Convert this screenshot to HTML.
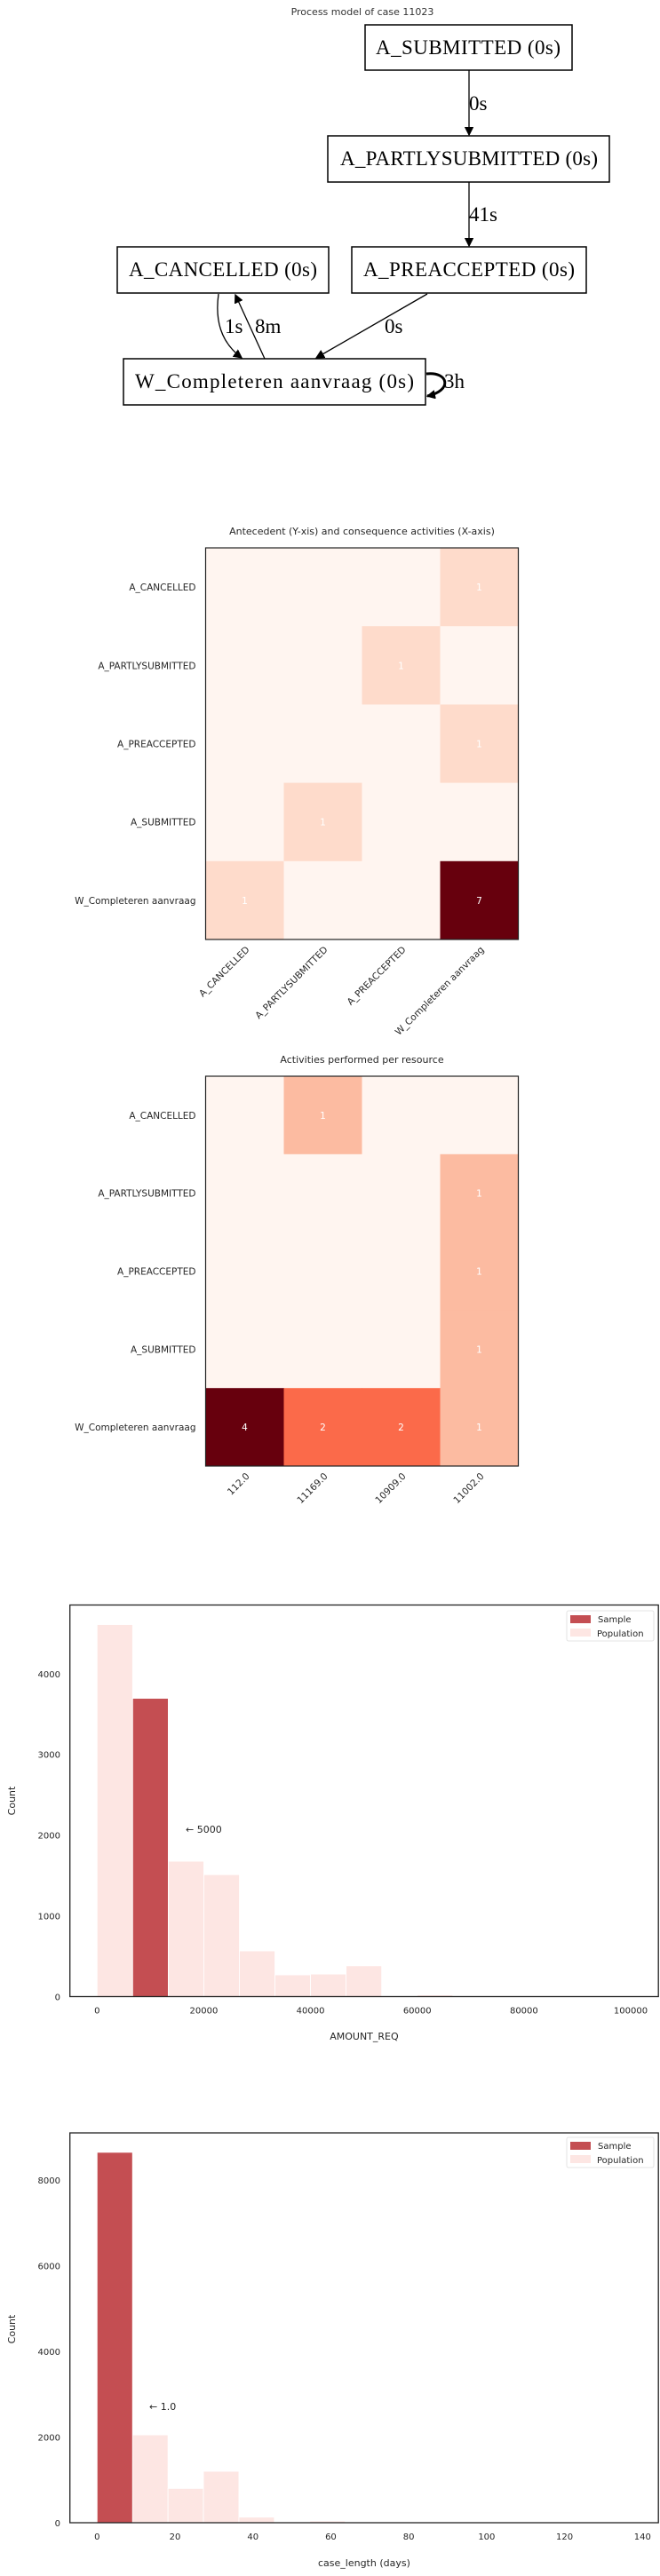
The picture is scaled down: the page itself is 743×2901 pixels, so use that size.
<!DOCTYPE html>
<html><head><meta charset="utf-8"><style>
html,body{margin:0;padding:0;background:#fff;}
svg{display:block;font-family:"DejaVu Sans","Liberation Sans",sans-serif;}
</style></head><body>
<svg id="root" width="743" height="2901" viewBox="0 0 743 2901" xmlns="http://www.w3.org/2000/svg">
<rect x="0" y="0" width="743" height="2901" fill="#fff"/>
<g font-family="'Liberation Serif',serif" fill="none" stroke="#000">
  <text x="408" y="17" font-family="'DejaVu Sans',sans-serif" font-size="11" fill="#333" stroke="none" text-anchor="middle">Process model of case 11023</text>
  <defs><marker id="ah" markerWidth="10" markerHeight="10" refX="9" refY="5" orient="auto" markerUnits="userSpaceOnUse"><path d="M0,0 L10,5 L0,10 z" fill="#000" stroke="none" transform="scale(1.3) translate(-2,-1.2)"/></marker></defs>
  <g><rect x="411" y="28" width="233" height="51" stroke-width="1.5"/><text x="527" y="61" font-size="23" fill="#000" stroke="none" text-anchor="middle" textLength="208">A_SUBMITTED (0s)</text></g>
  <g><rect x="369" y="153" width="317" height="52" stroke-width="1.5"/><text x="528" y="186" font-size="23" fill="#000" stroke="none" text-anchor="middle" textLength="290">A_PARTLYSUBMITTED (0s)</text></g>
  <g><rect x="132" y="278" width="238" height="52" stroke-width="1.5"/><text x="251" y="311" font-size="23" fill="#000" stroke="none" text-anchor="middle" textLength="212">A_CANCELLED (0s)</text></g>
  <g><rect x="396" y="278" width="264" height="52" stroke-width="1.5"/><text x="528" y="311" font-size="23" fill="#000" stroke="none" text-anchor="middle" textLength="238">A_PREACCEPTED (0s)</text></g>
  <g><rect x="139" y="404" width="340" height="52" stroke-width="1.5"/><text x="309" y="437" font-size="23" fill="#000" stroke="none" text-anchor="middle" textLength="314">W_Completeren aanvraag (0s)</text></g>
  <path d="M528,79 L528,152" stroke-width="1.3" marker-end="url(#ah)"/>
  <path d="M528,205 L528,277" stroke-width="1.3" marker-end="url(#ah)"/>
  <path d="M246,331 C242,360 248,385 272,403" stroke-width="1.3" marker-end="url(#ah)"/>
  <path d="M298,404 L265,332" stroke-width="1.3" marker-end="url(#ah)"/>
  <path d="M481,331 L356,403" stroke-width="1.3" marker-end="url(#ah)"/>
  <path d="M480,421 C505,418 510,440 481,446" stroke-width="3" marker-end="url(#ah)"/>
  <g fill="#000" stroke="none" font-size="23">
    <text x="528" y="124">0s</text>
    <text x="528" y="249">41s</text>
    <text x="253" y="375">1s</text>
    <text x="287" y="375">8m</text>
    <text x="433" y="375">0s</text>
    <text x="500" y="437">3h</text>
  </g>
</g>
<g id="hm1"></g>
<g id="hm2"></g>
<g id="h1"></g>
<g id="h2"></g>
</svg>
<script>
const hm1Rows = ["A_CANCELLED","A_PARTLYSUBMITTED","A_PREACCEPTED","A_SUBMITTED","W_Completeren aanvraag"];
const hm1Cols = ["A_CANCELLED","A_PARTLYSUBMITTED","A_PREACCEPTED","W_Completeren aanvraag"];
const hm1Values = [[0,0,0,1],[0,0,1,0],[0,0,0,1],[0,1,0,0],[1,0,0,7]];
const hm2Rows = ["A_CANCELLED","A_PARTLYSUBMITTED","A_PREACCEPTED","A_SUBMITTED","W_Completeren aanvraag"];
const hm2Cols = ["112.0","11169.0","10909.0","11002.0"];
const hm2Values = [[0,1,0,0],[0,0,0,1],[0,0,0,1],[0,0,0,1],[4,2,2,1]];
const h1Edges = [0,6667,13333,20000,26667,33333,40000,46667,53333,60000,66667,73333,80000,86667,93333,100000];
const h1Population = [4608,3694,1676,1510,565,268,278,380,0,20,8,0,0,0,0];
const h1Sample = [0,3694,0,0,0,0,0,0,0,0,0,0,0,0,0];
const h1XTicks = [0,20000,40000,60000,80000,100000];
const h1YTicks = [0,1000,2000,3000,4000];
const h2Edges = [0,9.1,18.2,27.3,36.4,45.5,54.6,63.7,72.8,81.9,91,100.1,109.2,118.3,127.4,136.5];
const h2Population = [8645,2050,800,1200,130,15,40,0,0,0,0,0,0,0,0];
const h2Sample = [8645,0,0,0,0,0,0,0,0,0,0,0,0,0,0];
const h2XTicks = [0,20,40,60,80,100,120,140];
const h2YTicks = [0,2000,4000,6000,8000];

const NS="http://www.w3.org/2000/svg";
function mk(parent,tag,attrs,text){const e=document.createElementNS(NS,tag);for(const k in attrs)e.setAttribute(k,attrs[k]);if(text!==undefined)e.textContent=text;parent.appendChild(e);return e;}
const reds=["#fff5f0","#fee0d2","#fcbba1","#fc9272","#fb6a4a","#ef3b2c","#cb181d","#a50f15","#67000d"];
function hex(c){return [1,3,5].map(i=>parseInt(c.substr(i,2),16));}
function redsColor(t){t=Math.max(0,Math.min(1,t));const p=t*8,i=Math.min(7,Math.floor(p)),f=p-i;const a=hex(reds[i]),b=hex(reds[i+1]);return "rgb("+a.map((v,k)=>Math.round(v+(b[k]-v)*f)).join(",")+")";}

function heatmap(g,rows,cols,vals,title,box){
  const x0=box.x,y0=box.y,w=box.w,h=box.h,cw=w/cols.length,ch=h/rows.length;
  let mx=0;vals.forEach(r=>r.forEach(v=>{if(v>mx)mx=v;}));
  const t=mk(g,"text",{x:x0+w/2,y:box.ty,"font-size":"11","text-anchor":"middle",fill:"#262626"},title);
  
  
  rows.forEach((rn,i)=>{cols.forEach((cn,j)=>{
    const v=vals[i][j];
    const r=mk(g,"rect",{x:x0+j*cw,y:y0+i*ch,width:cw+0.5,height:ch+0.5,fill:redsColor(v/mx)});
    
    
    if(v>0){const tx=mk(g,"text",{x:x0+j*cw+cw/2,y:y0+i*ch+ch/2+4,"font-size":"10.5","text-anchor":"middle",fill:"#fff"},String(v));
      
      }
  });
    const yl=mk(g,"text",{x:x0-11,y:y0+i*ch+ch/2+4,"font-size":"10.5","text-anchor":"end",fill:"#262626"},rn);
    
    
  });
  cols.forEach((cn,j)=>{const cx=x0+j*cw+cw/2+6,cy=y0+h+12;
    const xl=mk(g,"text",{x:cx,y:cy,"font-size":"10.5","text-anchor":"end",fill:"#262626",transform:"rotate(-45 "+cx+" "+cy+")"},cn);
    
    
  });
  mk(g,"rect",{x:x0,y:y0,width:w,height:h,fill:"none",stroke:"#222","stroke-width":"1.2"});
}
heatmap(document.getElementById("hm1"),hm1Rows,hm1Cols,hm1Values,"Antecedent (Y-xis) and consequence activities (X-axis)",{x:231.5,y:617,w:352,h:441,ty:602});
heatmap(document.getElementById("hm2"),hm2Rows,hm2Cols,hm2Values,"Activities performed per resource",{x:231.5,y:1212,w:352,h:439,ty:1197});

function hist(g,edges,pop,sam,xt,yt,o){
  const X=v=>o.x0px+(v-o.xmin)*(o.x1px-o.x0px)/(o.xmax-o.xmin);
  const Y=v=>o.ybase-(v)*o.yscale;
  for(let i=0;i<pop.length;i++){if(pop[i]<=0)continue;
    const r=mk(g,"rect",{x:X(edges[i]),y:Y(pop[i]),width:X(edges[i+1])-X(edges[i]),height:o.ybase-Y(pop[i]),fill:"#fde6e3",stroke:"#fff","stroke-width":"0.8"});
    
    }
  for(let i=0;i<sam.length;i++){if(sam[i]<=0)continue;
    const r=mk(g,"rect",{x:X(edges[i]),y:Y(sam[i]),width:X(edges[i+1])-X(edges[i]),height:o.ybase-Y(sam[i]),fill:"#c44e52",stroke:"#fff","stroke-width":"0.8"});
    
    }
  mk(g,"rect",{x:o.bx,y:o.by,width:o.bw,height:o.bh,fill:"none",stroke:"#222","stroke-width":"1.3"});
  xt.forEach(v=>{const t=mk(g,"text",{x:X(v),y:o.by+o.bh+19,"font-size":"10","text-anchor":"middle",fill:"#262626"},String(v));
    
    });
  yt.forEach(v=>{const t=mk(g,"text",{x:68,y:Y(v)+4,"font-size":"10","text-anchor":"end",fill:"#262626"},String(v));
    
    });
  const xl=mk(g,"text",{x:(o.bx+o.bx+o.bw)/2,y:o.xly,"font-size":"11","text-anchor":"middle",fill:"#262626"},o.xlabel);
  
  
  const cy=o.cy;
  const yl=mk(g,"text",{x:17,y:cy,"font-size":"11","text-anchor":"middle",fill:"#262626",transform:"rotate(-90 17 "+cy+")"},"Count");
  
  
  const an=mk(g,"text",{x:o.ax,y:o.ay,"font-size":"11",fill:"#262626"},o.atext);
  
  
  const lg=mk(g,"g",{});
  
  
  mk(lg,"rect",{x:638,y:o.ly,width:98,height:34,fill:"#fff",stroke:"#ddd","stroke-width":"0.8",rx:"2"});
  mk(lg,"rect",{x:642,y:o.ly+5,width:23,height:9,fill:"#c44e52"});
  mk(lg,"rect",{x:642,y:o.ly+20,width:23,height:9,fill:"#fde6e3"});
  const s=mk(lg,"text",{x:673,y:o.ly+13,"font-size":"10",fill:"#262626"},"Sample");
  
  
  const p=mk(lg,"text",{x:672,y:o.ly+29,"font-size":"10",fill:"#262626"},"Population");
  
  
}
hist(document.getElementById("h1"),h1Edges,h1Population,h1Sample,h1XTicks,h1YTicks,
 {x0px:109.3,x1px:710,xmin:0,xmax:100000,ybase:2248.4,yscale:0.0909,bx:78.7,by:1807.5,bw:662.5,bh:441,xlabel:"AMOUNT_REQ",xly:2297,cy:2028,ax:209,ay:2064,atext:"← 5000",ly:1814});
hist(document.getElementById("h2"),h2Edges,h2Population,h2Sample,h2XTicks,h2YTicks,
 {x0px:109.3,x1px:723.3,xmin:0,xmax:140,ybase:2841,yscale:0.04825,bx:78.7,by:2402,bw:662.5,bh:439,xlabel:"case_length (days)",xly:2890,cy:2623,ax:168,ay:2714,atext:"← 1.0",ly:2407});
</script>
</body></html>
